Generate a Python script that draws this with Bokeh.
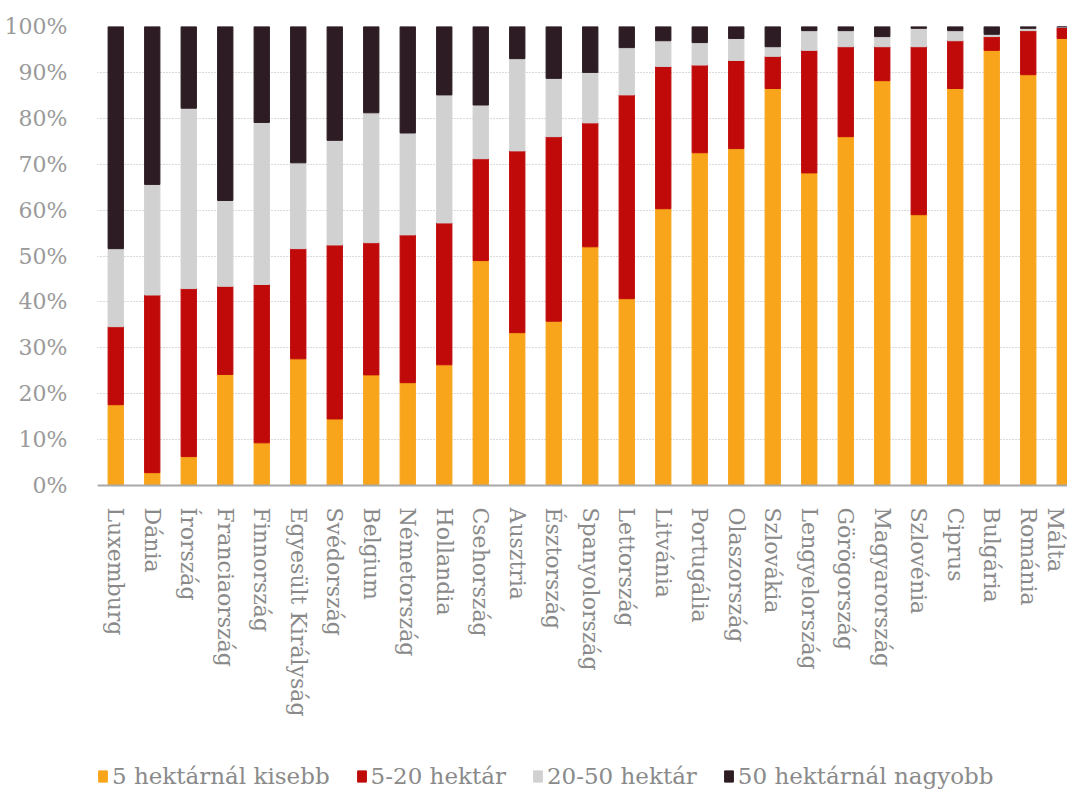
from bokeh.plotting import figure
from bokeh.models import Range1d, FixedTicker, Legend, LegendItem, ColumnDataSource
from bokeh.embed import file_html
from bokeh.resources import INLINE

countries = ["Luxemburg", "Dánia", "Írország", "Franciaország", "Finnország",
             "Egyesült Királyság", "Svédország", "Belgium", "Németország", "Hollandia",
             "Csehország", "Ausztria", "Észtország", "Spanyolország", "Lettország",
             "Litvánia", "Portugália", "Olaszország", "Szlovákia", "Lengyelország",
             "Görögország", "Magyarország", "Szlovénia", "Ciprus", "Bulgária",
             "Románia", "Málta"]
under5 = [17.6, 2.8, 6.3, 24.2, 9.3, 27.6, 14.5, 24.1, 22.4, 26.3,
          49.0, 33.3, 35.8, 52.0, 40.7, 60.3, 72.5, 73.4, 86.5, 68.1,
          76.0, 88.2, 59.0, 86.5, 94.8, 89.5, 97.4]
h5_20 = [17.0, 38.7, 36.6, 19.2, 34.5, 24.0, 37.9, 28.8, 32.2, 30.9,
         22.2, 39.6, 40.2, 27.0, 44.4, 31.0, 19.1, 19.2, 7.0, 26.7,
         19.6, 7.4, 36.6, 10.4, 3.0, 9.6, 2.4]
h20_50 = [17.0, 24.1, 39.3, 18.7, 35.3, 18.7, 22.8, 28.3, 22.2, 27.9,
          11.7, 20.1, 12.7, 11.0, 10.3, 5.6, 4.9, 4.8, 2.1, 4.3,
          3.5, 2.2, 4.0, 2.2, 0.5, 0.5, 0.1]
over50 = [48.4, 34.4, 17.8, 37.9, 20.9, 29.7, 24.8, 18.8, 23.2, 14.9,
          17.1, 7.0, 11.3, 10.0, 4.6, 3.1, 3.5, 2.6, 4.4, 0.9,
          0.9, 2.2, 0.4, 0.9, 1.7, 0.4, 0.1]
series_labels = ["5 hektárnál kisebb", "5-20 hektár", "20-50 hektár", "50 hektárnál nagyobb"]
y_ticks = [0, 10, 20, 30, 40, 50, 60, 70, 80, 90, 100]

colors = ["#F8A51C", "#C00A0A", "#D1D1D1", "#2D1C23"]
keys = ["under5", "h5_20", "h20_50", "over50"]

xpos = [i + 0.5 for i in range(len(countries))]
source = ColumnDataSource(dict(x=xpos, under5=under5, h5_20=h5_20,
                               h20_50=h20_50, over50=over50))

FONT = "DejaVu Serif"
PX_PER_UNIT = 4.59
FRAME_H = 766
y_low = -(FRAME_H - 100 * PX_PER_UNIT) / PX_PER_UNIT

p = figure(frame_width=970, frame_height=FRAME_H,
           x_range=Range1d(0, 970 / 36.5), y_range=Range1d(y_low, 100),
           output_backend="svg", toolbar_location=None,
           min_border_top=26, min_border_left=97, min_border_right=0,
           min_border_bottom=0)

renderers = p.vbar_stack(keys, x="x", width=0.42, color=colors, source=source)

p.outline_line_color = None
p.xgrid.grid_line_color = None
p.ygrid.grid_line_color = "#b5b5b5"
p.ygrid.grid_line_dash = "1 2"
p.ygrid.grid_line_width = 1
p.ygrid.ticker = FixedTicker(ticks=y_ticks)

p.yaxis.ticker = FixedTicker(ticks=y_ticks)
p.yaxis.major_label_overrides = {t: f"{t}%" for t in y_ticks}
p.yaxis.axis_line_color = None
p.yaxis.major_tick_line_color = None
p.yaxis.minor_tick_line_color = None
p.yaxis.major_label_standoff = 24
p.yaxis.major_label_text_font = FONT
p.yaxis.major_label_text_font_size = "22px"
p.yaxis.major_label_text_color = "#9a9a9a"

p.xaxis.fixed_location = 0
p.xaxis.ticker = FixedTicker(ticks=xpos)
p.xaxis.major_label_overrides = {x: c for x, c in zip(xpos, countries)}
p.xaxis.major_label_orientation = "vertical"
p.xaxis.axis_line_color = "#a8a8a8"
p.xaxis.axis_line_width = 2
p.xaxis.major_tick_line_color = None
p.xaxis.minor_tick_line_color = None
p.xaxis.major_label_standoff = 16
p.xaxis.major_label_text_font = FONT
p.xaxis.major_label_text_font_size = "22px"
p.xaxis.major_label_text_color = "#8a8a8a"

legend = Legend(items=[LegendItem(label=lab, renderers=[r]) for lab, r in zip(series_labels, renderers)],
                orientation="horizontal", location=(0, 3),
                glyph_width=11, glyph_height=14, label_standoff=4, spacing=26,
                label_text_font=FONT, label_text_font_size="23px", label_text_color="#8a8a8a",
                background_fill_alpha=0, border_line_color=None, margin=0, padding=0)
p.add_layout(legend, "center")

open("out.html", "w").write(file_html(p, INLINE))
